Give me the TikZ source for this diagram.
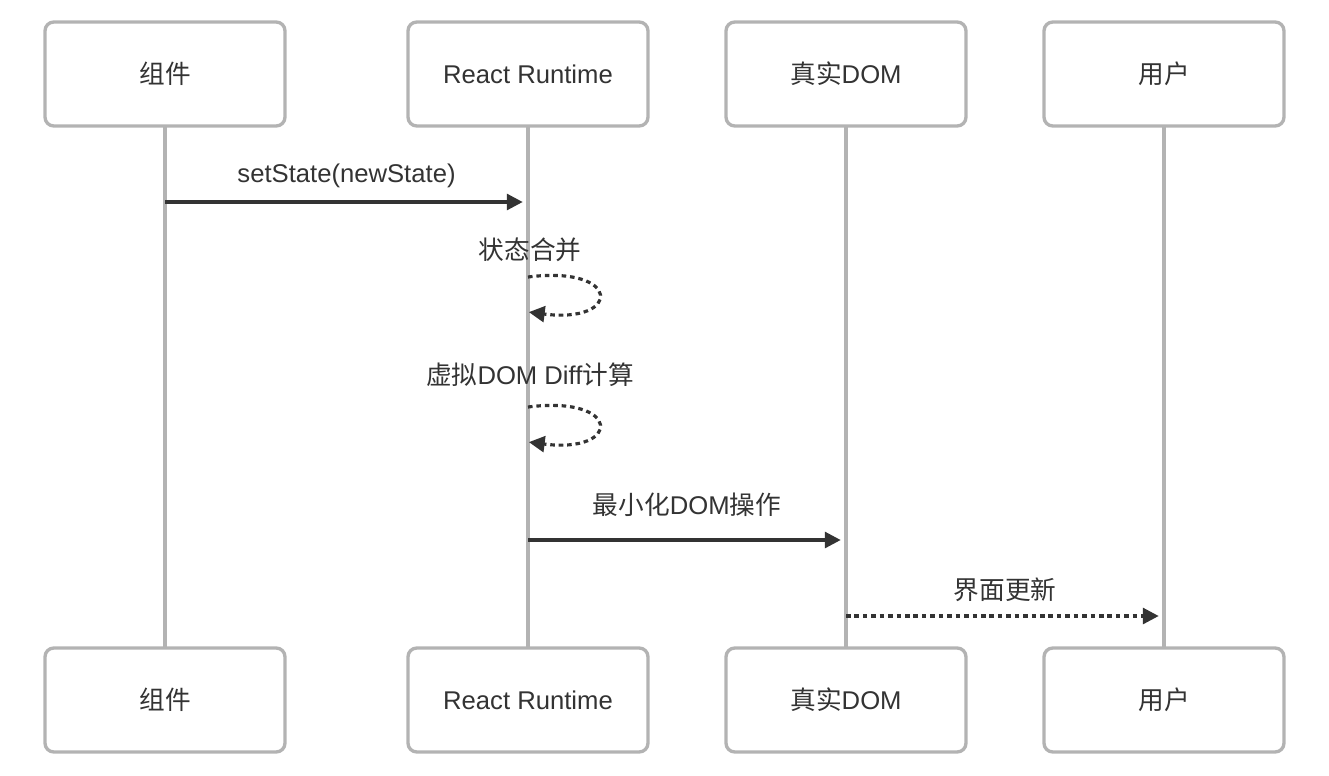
\documentclass[tikz,border=0pt]{standalone}
\usepackage{fontspec}
\setmainfont{Liberation Sans}
\newfontfamily\cjk{Noto Sans CJK SC}
\usetikzlibrary{positioning,arrows.meta}
\definecolor{boxgray}{HTML}{B3B3B3}
\definecolor{ink}{HTML}{333333}
\begin{document}
\begin{tikzpicture}[x=0.02cm,y=-0.02cm,
  actor/.style={draw=boxgray,line width=1.9pt,rounded corners=5pt,fill=white,minimum width=4.8cm,minimum height=2.08cm,text=ink,font=\fontsize{14.6}{16}\selectfont},
  life/.style={draw=boxgray,line width=2pt},
  msg/.style={draw=ink,line width=1.8pt,-{Triangle[length=9pt,width=9pt]},shorten >=3pt},
  ret/.style={msg,dash pattern=on 2.6pt off 2.2pt},
  self/.style={ret,shorten >=0.5pt},
  lbl/.style={text=ink,font=\fontsize{14.6}{16}\selectfont}]
  \useasboundingbox (0,0) rectangle (1329,775);
  % lifelines first, boxes on top
  \coordinate (l1) at (165,74);  \coordinate (e1) at (165,700);
  \coordinate (l2) at (528,74);  \coordinate (e2) at (528,700);
  \coordinate (l3) at (846,74);  \coordinate (e3) at (846,700);
  \coordinate (l4) at (1164,74); \coordinate (e4) at (1164,700);
  \draw[life] (l1) -- (e1);
  \draw[life] (l2) -- (e2);
  \draw[life] (l3) -- (e3);
  \draw[life] (l4) -- (e4);

  \node[actor] (t1) at (l1) {{\cjk 组件}};
  \node[actor] (t2) at (l2) {React Runtime};
  \node[actor] (t3) at (l3) {{\cjk 真实}DOM};
  \node[actor] (t4) at (l4) {{\cjk 用户}};
  \node[actor] (b1) at (e1) {{\cjk 组件}};
  \node[actor] (b2) at (e2) {React Runtime};
  \node[actor] (b3) at (e3) {{\cjk 真实}DOM};
  \node[actor] (b4) at (e4) {{\cjk 用户}};

  % messages
  \coordinate (m1a) at (165,202); \coordinate (m1b) at (528,202);
  \draw[msg] (m1a) -- node[lbl,above=4pt] {setState(newState)} (m1b);

  \coordinate (s1a) at (528,277); \coordinate (s1b) at (528,312);
  \node[lbl] (s1l) at (530,250) {{\cjk 状态合并}};
  \draw[self] (s1a) .. controls (622,265) and (622,324) .. (s1b);

  \coordinate (s2a) at (528,407); \coordinate (s2b) at (528,442);
  \node[lbl] (s2l) at (530,375) {{\cjk 虚拟}DOM Diff{\cjk 计算}};
  \draw[self] (s2a) .. controls (622,395) and (622,454) .. (s2b);

  \coordinate (m2a) at (528,540); \coordinate (m2b) at (846,540);
  \draw[msg] (m2a) -- node[lbl,above=9pt] {{\cjk 最小化}DOM{\cjk 操作}} (m2b);

  \coordinate (m3a) at (846,616); \coordinate (m3b) at (1164,616);
  \draw[ret] (m3a) -- node[lbl,above=4pt] {{\cjk 界面更新}} (m3b);
\end{tikzpicture}
\end{document}
